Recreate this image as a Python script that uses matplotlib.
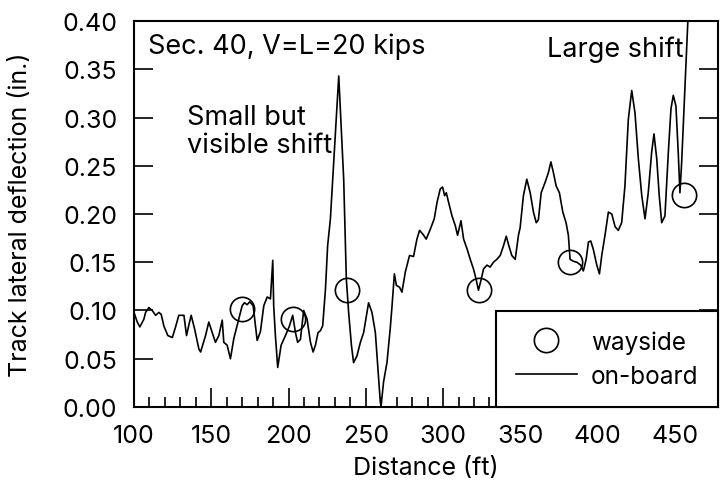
import matplotlib
matplotlib.use("Agg")
import matplotlib.pyplot as plt
from matplotlib.ticker import MultipleLocator

plt.rcParams['font.family'] = ['Inter', 'DejaVu Sans']

distance = [100, 102.1, 103.8, 106.4, 107.5, 109.6, 111.8, 114.0, 116.1, 117.6,
            119.3, 121.9, 124.8, 126.9, 129.0, 132.3, 134.0, 135.5, 137.0, 139.2,
            142.0, 143.1, 146.3, 148.4, 151.3, 152.7, 154.9, 157.1, 158.1, 160.3,
            162.4, 164.6, 167.8, 170.0, 171.5, 173.2, 174.9, 177.1, 179.7, 181.8,
            184.0, 186.2, 188.3, 189.8, 190.4, 191.5, 193.0, 195.2, 198.0, 200.6,
            202.7, 204.5, 205.9, 207.7, 209.8, 212.0, 214.2, 215.9, 217.4, 219.1,
            220.6, 222.1, 223.9, 225.3, 227.1, 228.6, 232.5, 235.7, 237.4, 238.9,
            240.7, 242.1, 244.3, 246.5, 248.6, 251.8, 254.0, 256.2, 257.7, 259.4,
            259.9, 261.5, 263.7, 265.8, 267.0, 268.5, 269.8, 271.9, 273.4, 275.6,
            278.3, 280.9, 283.1, 284.8, 287.0, 289.1, 291.7, 294.3, 296.1, 298.2,
            299.7, 301.0, 302.1, 303.6, 305.8, 307.9, 309.4, 311.6, 313.3, 315.5,
            317.6, 319.7, 321.3, 322.9, 324.5, 326.2, 328.4, 330.5, 332.6, 334.8,
            337.0, 339.1, 340.9, 342.6, 344.5, 346.7, 348.8, 349.9, 352.0, 354.2,
            356.4, 358.5, 360.3, 361.7, 363.5, 366.1, 368.2, 369.8, 371.4, 373.2,
            375.3, 377.5, 379.6, 381.1, 382.2, 384.4, 386.6, 389.1, 390.8, 392.6,
            394.1, 395.6, 397.3, 399.5, 401.2, 402.7, 404.8, 407.0, 409.2, 411.3,
            413.4, 415.6, 417.7, 419.9, 422.1, 424.2, 426.4, 428.6, 430.7, 432.8,
            435.0, 436.5, 438.3, 439.9, 441.5, 443.6, 445.8, 447.5, 449.0, 450.7,
            452.2, 453.3, 454.4, 456.6, 458.7]
onboard = [0.098, 0.088, 0.083, 0.091, 0.098, 0.103, 0.100, 0.095, 0.098, 0.096,
           0.084, 0.074, 0.072, 0.083, 0.095, 0.095, 0.074, 0.085, 0.095, 0.081,
           0.060, 0.057, 0.074, 0.088, 0.074, 0.067, 0.074, 0.090, 0.067, 0.064,
           0.050, 0.071, 0.091, 0.105, 0.108, 0.106, 0.109, 0.105, 0.069, 0.078,
           0.105, 0.114, 0.112, 0.152, 0.105, 0.074, 0.041, 0.064, 0.074, 0.084,
           0.095, 0.077, 0.067, 0.070, 0.100, 0.091, 0.067, 0.057, 0.064, 0.077,
           0.079, 0.084, 0.122, 0.167, 0.195, 0.236, 0.343, 0.236, 0.133, 0.098,
           0.064, 0.046, 0.053, 0.067, 0.077, 0.108, 0.098, 0.077, 0.043, 0.005,
           0.001, 0.026, 0.046, 0.081, 0.105, 0.138, 0.126, 0.124, 0.119, 0.140,
           0.157, 0.156, 0.174, 0.183, 0.179, 0.174, 0.184, 0.195, 0.212, 0.226,
           0.228, 0.219, 0.222, 0.212, 0.198, 0.188, 0.178, 0.193, 0.174, 0.164,
           0.153, 0.143, 0.133, 0.121, 0.131, 0.143, 0.147, 0.145, 0.150, 0.153,
           0.157, 0.167, 0.177, 0.167, 0.157, 0.153, 0.178, 0.186, 0.219, 0.236,
           0.222, 0.202, 0.191, 0.194, 0.222, 0.233, 0.243, 0.254, 0.243, 0.229,
           0.222, 0.202, 0.191, 0.178, 0.153, 0.151, 0.150, 0.147, 0.141, 0.153,
           0.171, 0.172, 0.163, 0.147, 0.138, 0.157, 0.178, 0.202, 0.200, 0.187,
           0.183, 0.191, 0.229, 0.298, 0.328, 0.305, 0.257, 0.219, 0.195, 0.222,
           0.264, 0.283, 0.257, 0.219, 0.191, 0.198, 0.264, 0.309, 0.323, 0.312,
           0.264, 0.222, 0.253, 0.333, 0.41]

# wayside measurements
wayside_x = [170, 203, 238, 323, 382, 456]
wayside_y = [0.102, 0.091, 0.121, 0.121, 0.150, 0.220]

fig = plt.figure(figsize=(7.22, 4.85), dpi=100)
ax = fig.add_axes([0.1856, 0.1588, 0.809, 0.7958])

ax.plot(wayside_x, wayside_y, 'o', mfc='none', mec='black', ms=17.5, mew=1.2,
        label='wayside')
ax.plot(distance, onboard, '-', color='black', lw=1.2, label='on-board')

ax.set_xlim(100, 478)
ax.set_ylim(0, 0.40)
ax.xaxis.set_major_locator(MultipleLocator(50))
ax.xaxis.set_minor_locator(MultipleLocator(10))
ax.yaxis.set_major_locator(MultipleLocator(0.05))
ax.yaxis.set_major_formatter(matplotlib.ticker.FormatStrFormatter('%.2f'))

fs = 18
ax.tick_params(axis='both', which='major', direction='in', length=14, width=1.2,
               labelsize=fs, pad=12)
ax.tick_params(axis='x', which='minor', direction='in', length=7, width=1.2)
ax.tick_params(axis='y', right=True)
for s in ax.spines.values():
    s.set_linewidth(1.5)

ax.set_xlabel('Distance (ft)', fontsize=fs, labelpad=7)
ax.set_ylabel('Track lateral deflection (in.)', fontsize=fs, labelpad=22)

ax.text(0.024, 0.935, 'Sec. 40, V=L=20 kips', transform=ax.transAxes,
        fontsize=19.5, va='center')
ax.text(0.091, 0.714, 'Small but\nvisible shift', transform=ax.transAxes,
        fontsize=19.5, va='center', linespacing=1.1)
ax.text(0.707, 0.927, 'Large shift', transform=ax.transAxes,
        fontsize=19.5, va='center')

leg = ax.legend(loc='lower right', borderaxespad=0, fontsize=17.5, fancybox=False,
                framealpha=1, edgecolor='black', handlelength=2.5,
                handletextpad=0.6, labelspacing=0.45, borderpad=0.8)
leg.get_frame().set_linewidth(1.5)

fig.savefig('out.png', dpi=100)
